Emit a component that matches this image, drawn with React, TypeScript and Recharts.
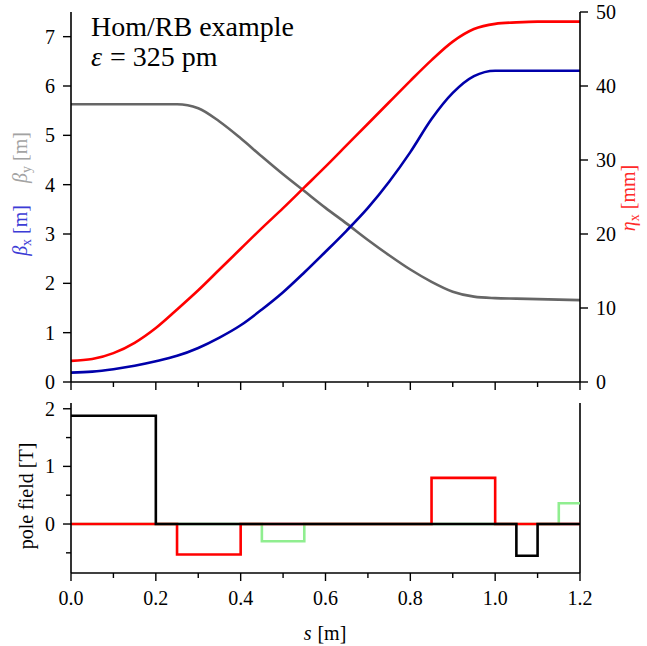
import React from "react";
import { LineChart, Line, XAxis, YAxis, ReferenceLine } from "recharts";

// optics along s [m]
const sGrid = [
  0, 0.05, 0.1, 0.15, 0.2, 0.25, 0.3, 0.35, 0.4, 0.45, 0.5, 0.55, 0.6, 0.65, 0.7, 0.75, 0.8, 0.85, 0.9,
  0.95, 1.0, 1.05, 1.1, 1.15, 1.2,
];
const betaX = [
  0.19, 0.21, 0.26, 0.33, 0.42, 0.53, 0.69, 0.9, 1.15, 1.47, 1.82, 2.22, 2.64, 3.07, 3.53, 4.06, 4.66, 5.33,
  5.86, 6.2, 6.31, 6.31, 6.31, 6.31, 6.31,
];
const betaY = [
  5.63, 5.63, 5.63, 5.63, 5.63, 5.63, 5.55, 5.28, 4.94, 4.57, 4.21, 3.87, 3.53, 3.21, 2.88, 2.57, 2.28, 2.03,
  1.83, 1.73, 1.7, 1.69, 1.68, 1.67, 1.66,
];
const etaX = [
  2.85, 3.1, 3.9, 5.3, 7.3, 9.8, 12.4, 15.2, 18.0, 20.8, 23.5, 26.3, 29.1, 32.0, 34.9, 37.8, 40.7, 43.5,
  46.0, 47.7, 48.4, 48.6, 48.7, 48.7, 48.7,
];

// pole field [T], step edges
const blackS = [0, 0.2, 1.05, 1.1, 1.2];
const blackB = [1.88, 0, -0.55, 0, 0];
const redS = [0, 0.25, 0.4, 0.85, 1.0, 1.2];
const redB = [0, -0.53, 0, 0.8, 0, 0];
const greenS = [0, 0.45, 0.55, 1.15, 1.2];
const greenB = [0, -0.3, 0, 0.36, 0.36];

const xTicks = [0, 0.1, 0.2, 0.3, 0.4, 0.5, 0.6, 0.7, 0.8, 0.9, 1.0, 1.1, 1.2];
const betaTicks = [0, 1, 2, 3, 4, 5, 6, 7];
const etaTicks = [0, 10, 20, 30, 40, 50];
const fieldTicks = [-0.5, 0, 0.5, 1, 1.5, 2];

const optics = sGrid.map((s, i) => ({ s, bx: betaX[i], by: betaY[i], eta: etaX[i] }));
const steps = (xs: number[], ys: number[]) => xs.map((s, i) => ({ s, b: ys[i] }));

const FONT = "'Liberation Serif', 'DejaVu Serif', serif";
const W = 647;

const makeXTick = (labels: boolean) => (props: any) => {
  const { x, y, payload } = props;
  const v = payload.value;
  const major = Math.round(v * 10) % 2 === 0;
  return (
    <g>
      <line x1={x} x2={x} y1={y} y2={y + (major ? 8 : 5)} stroke="#000" strokeWidth={1.4} />
      {labels && major && (
        <text x={x} y={y + 32} textAnchor="middle" fontFamily={FONT} fontSize={20} fill="#000">
          {v.toFixed(1)}
        </text>
      )}
    </g>
  );
};

const makeYTick = (side: "left" | "right") => (props: any) => {
  const { x, y, payload } = props;
  const v = payload.value;
  const major = Number.isInteger(v);
  const len = major ? 8 : 5;
  const d = side === "left" ? -1 : 1;
  return (
    <g>
      <line x1={x} x2={x + d * len} y1={y} y2={y} stroke="#000" strokeWidth={1.4} />
      {major && (
        <text
          x={x + d * 16}
          y={y + 7}
          textAnchor={side === "left" ? "end" : "start"}
          fontFamily={FONT}
          fontSize={20}
          fill="#000"
        >
          {v}
        </text>
      )}
    </g>
  );
};

const axisLine = { stroke: "#000", strokeWidth: 1.6 };

export default function App() {
  return (
    <div style={{ position: "absolute", left: 0, top: 0, width: W, height: 646, background: "#fff" }}>
      <div style={{ position: "absolute", left: 0, top: 0 }}>
        <LineChart width={W} height={395} margin={{ top: 12, right: 17, bottom: 0, left: 21 }} data={optics}>
          <XAxis
            dataKey="s"
            type="number"
            domain={[0, 1.2]}
            ticks={xTicks}
            interval={0}
            height={13}
            tickSize={0}
            tickMargin={0}
            tickLine={false}
            axisLine={axisLine}
            tick={makeXTick(false)}
          />
          <YAxis
            yAxisId="beta"
            domain={[0, 7.5]}
            ticks={betaTicks}
            interval={0}
            width={50}
            tickSize={0}
            tickMargin={0}
            tickLine={false}
            axisLine={axisLine}
            tick={makeYTick("left")}
          />
          <YAxis
            yAxisId="eta"
            orientation="right"
            domain={[0, 50]}
            ticks={etaTicks}
            interval={0}
            width={50}
            tickSize={0}
            tickMargin={0}
            tickLine={false}
            axisLine={axisLine}
            tick={makeYTick("right")}
          />
          <Line yAxisId="beta" dataKey="by" type="monotone" stroke="#666666" strokeWidth={2.6} dot={false} activeDot={false} isAnimationActive={false} />
          <Line yAxisId="beta" dataKey="bx" type="monotone" stroke="#0000aa" strokeWidth={2.6} dot={false} activeDot={false} isAnimationActive={false} />
          <Line yAxisId="eta" dataKey="eta" type="monotone" stroke="#ff0000" strokeWidth={2.6} dot={false} activeDot={false} isAnimationActive={false} />
        </LineChart>
      </div>

      <div style={{ position: "absolute", left: 0, top: 395 }}>
        <LineChart width={W} height={251} margin={{ top: 8, right: 67, bottom: 0, left: 21 }}>
          <XAxis
            dataKey="s"
            type="number"
            domain={[0, 1.2]}
            ticks={xTicks}
            interval={0}
            height={73}
            tickSize={0}
            tickMargin={0}
            tickLine={false}
            axisLine={axisLine}
            tick={makeXTick(true)}
          />
          <YAxis
            domain={[-0.85, 2.1]}
            ticks={fieldTicks}
            interval={0}
            width={50}
            tickSize={0}
            tickMargin={0}
            tickLine={false}
            axisLine={axisLine}
            tick={makeYTick("left")}
          />
          <ReferenceLine x={1.2} stroke="#000" strokeWidth={1.6} />
          <Line data={steps(greenS, greenB)} dataKey="b" type="stepAfter" stroke="#90ee90" strokeWidth={2.6} dot={false} activeDot={false} isAnimationActive={false} />
          <Line data={steps(redS, redB)} dataKey="b" type="stepAfter" stroke="#ff0000" strokeWidth={2.6} dot={false} activeDot={false} isAnimationActive={false} />
          <Line data={steps(blackS, blackB)} dataKey="b" type="stepAfter" stroke="#000000" strokeWidth={2.6} dot={false} activeDot={false} isAnimationActive={false} />
        </LineChart>
      </div>

      <svg width={W} height={646} style={{ position: "absolute", left: 0, top: 0, pointerEvents: "none" }} fontFamily={FONT}>
        <text x={91} y={36} fontSize={28} fill="#000">Hom/RB example</text>
        <text x={91} y={66} fontSize={28} fill="#000">
          <tspan fontStyle="italic">ε</tspan>
          <tspan dx={8}>= 325 pm</tspan>
        </text>

        <g transform="translate(27,194) rotate(-90)">
          <text x={0} y={0} textAnchor="middle" fontSize={20}>
            <tspan fill="#3c3cd6" fontStyle="italic">β</tspan>
            <tspan fill="#3c3cd6" fontSize={14} dy={4}>x</tspan>
            <tspan fill="#3c3cd6" dy={-4} dx={5}>[m]</tspan>
            <tspan fill="#a3a3a3" fontStyle="italic" dx={22}>β</tspan>
            <tspan fill="#a3a3a3" fontSize={14} dy={4}>y</tspan>
            <tspan fill="#a3a3a3" dy={-4} dx={5}>[m]</tspan>
          </text>
        </g>

        <g transform="translate(635,198) rotate(-90)">
          <text x={0} y={0} textAnchor="middle" fontSize={20} fill="#ff2a2a">
            <tspan fontStyle="italic">η</tspan>
            <tspan fontSize={14} dy={4}>x</tspan>
            <tspan dy={-4} dx={5}>[mm]</tspan>
          </text>
        </g>

        <g transform="translate(33,496) rotate(-90)">
          <text x={0} y={0} textAnchor="middle" fontSize={20} fill="#000">pole field [T]</text>
        </g>

        <text x={325} y={640} textAnchor="middle" fontSize={20} fill="#000">
          <tspan fontStyle="italic">s</tspan>
          <tspan dx={6}>[m]</tspan>
        </text>
      </svg>
    </div>
  );
}
